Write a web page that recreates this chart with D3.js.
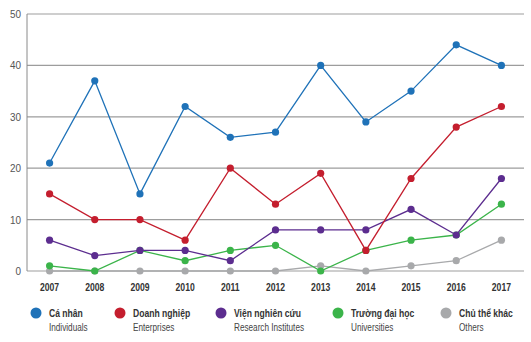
<!DOCTYPE html>
<html>
<head>
<meta charset="utf-8">
<script src="https://cdnjs.cloudflare.com/ajax/libs/d3/7.8.5/d3.min.js"></script>
<style>
  body { margin: 0; background: #fff; }
  text { font-family: "Liberation Sans", Arial, sans-serif; }
</style>
</head>
<body>
<svg id="chart"></svg>
<script>
// data
var years = ["2007","2008","2009","2010","2011","2012","2013","2014","2015","2016","2017"];
var individuals  = [21, 37, 15, 32, 26, 27, 40, 29, 35, 44, 40];
var enterprises  = [15, 10, 10, 6, 20, 13, 19, 4, 18, 28, 32];
var institutes   = [6, 3, 4, 4, 2, 8, 8, 8, 12, 7, 18];
var universities = [1, 0, 4, 2, 4, 5, 0, 4, 6, 7, 13];
var others       = [0, 0, 0, 0, 0, 0, 1, 0, 1, 2, 6];
var yTicks = [0, 10, 20, 30, 40, 50];

var seriesNames = ["Cá nhân", "Doanh nghiệp", "Viện nghiên cứu", "Trường đại học", "Chủ thể khác"];
var seriesSub = ["Individuals", "Enterprises", "Research Institutes", "Universities", "Others"];
var seriesVals = [individuals, enterprises, institutes, universities, others];
var colors = ["#1f72b8", "#c41e2e", "#5c2d8f", "#3bb44a", "#a8a9ab"];

var W = 531, H = 342;
var margin = { top: 14, right: 7, bottom: 71, left: 27 };

var svg = d3.select("#chart").attr("width", W).attr("height", H);

var x = d3.scalePoint()
  .domain(years)
  .range([margin.left, W - margin.right])
  .padding(0.5);

var y = d3.scaleLinear()
  .domain([0, 50])
  .range([H - margin.bottom, margin.top]);

// the original uses a condensed face, so squeeze text horizontally
function squeeze(px, py, sx) {
  return "translate(" + px + "," + py + ") scale(" + sx + ",1)";
}

// gridlines
svg.append("g")
  .selectAll("line")
  .data(yTicks)
  .enter()
  .append("line")
  .attr("x1", margin.left)
  .attr("x2", W - margin.right)
  .attr("y1", function (d) { return y(d); })
  .attr("y2", function (d) { return y(d); })
  .attr("stroke", "#9d9d9d")
  .attr("stroke-width", 1.2);

// left axis line
svg.append("line")
  .attr("x1", margin.left).attr("x2", margin.left)
  .attr("y1", y(50)).attr("y2", y(0))
  .attr("stroke", "#8a8a8a")
  .attr("stroke-width", 1);

// y labels
svg.append("g")
  .selectAll("text")
  .data(yTicks)
  .enter()
  .append("text")
  .attr("transform", function (d) { return squeeze(margin.left - 6, y(d) + 4, 0.9); })
  .attr("text-anchor", "end")
  .attr("font-size", 11)
  .attr("fill", "#555")
  .text(function (d) { return d; });

// x labels
svg.append("g")
  .selectAll("text")
  .data(years)
  .enter()
  .append("text")
  .attr("transform", function (d) { return squeeze(x(d), y(0) + 20, 0.82); })
  .attr("text-anchor", "middle")
  .attr("font-size", 10.5)
  .attr("font-weight", "bold")
  .attr("fill", "#333")
  .text(function (d) { return d; });

var line = d3.line()
  .x(function (d, i) { return x(years[i]); })
  .y(function (d) { return y(d); });

// draw back to front so blue is on top
for (var s = seriesVals.length - 1; s >= 0; s--) {
  var g = svg.append("g");
  g.append("path")
    .datum(seriesVals[s])
    .attr("d", line)
    .attr("fill", "none")
    .attr("stroke", colors[s])
    .attr("stroke-width", 1.3);
  g.selectAll("circle")
    .data(seriesVals[s])
    .enter()
    .append("circle")
    .attr("cx", function (d, i) { return x(years[i]); })
    .attr("cy", function (d) { return y(d); })
    .attr("r", 3.6)
    .attr("fill", colors[s]);
}

// legend
var legendX = [36, 120, 221, 338, 446];
var legend = svg.append("g");
seriesNames.forEach(function (name, i) {
  var lg = legend.append("g").attr("transform", "translate(" + legendX[i] + ",313)");
  lg.append("circle").attr("r", 5.5).attr("fill", colors[i]);
  lg.append("text")
    .attr("transform", squeeze(13, 4, 0.78))
    .attr("font-size", 11)
    .attr("font-weight", "bold")
    .attr("fill", "#333")
    .text(name);
  lg.append("text")
    .attr("transform", squeeze(13, 18, 0.78))
    .attr("font-size", 10.5)
    .attr("fill", "#444")
    .text(seriesSub[i]);
});
</script>
</body>
</html>
